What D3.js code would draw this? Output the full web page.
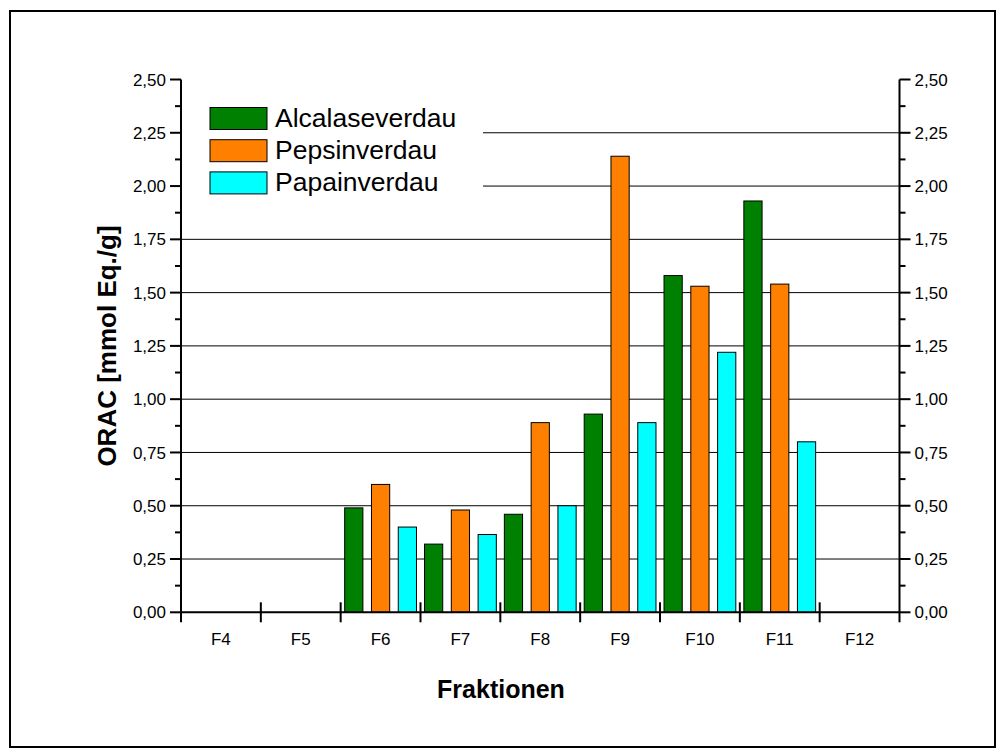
<!DOCTYPE html>
<html>
<head>
<meta charset="utf-8">
<script src="https://cdn.jsdelivr.net/npm/d3@7"></script>
<style>
  body { margin: 0; background: #fff; }
  text { font-family: Arial, "Liberation Sans", sans-serif; }
</style>
</head>
<body>
<div id="chart"></div>
<script>
var fractions = ['F4', 'F5', 'F6', 'F7', 'F8', 'F9', 'F10', 'F11', 'F12'];
var seriesNames = ['Alcalaseverdau', 'Pepsinverdau', 'Papainverdau'];
var seriesColors = ['#008000', '#FF8000', '#00FFFF'];
// null = no measurement for that fraction
var alcalase = [null, null, 0.49, 0.32, 0.46, 0.93, 1.58, 1.93, null];
var pepsin   = [null, null, 0.60, 0.48, 0.89, 2.14, 1.53, 1.54, null];
var papain   = [null, null, 0.40, 0.365, 0.50, 0.89, 1.22, 0.80, null];
var yTicks = [0, 0.25, 0.5, 0.75, 1, 1.25, 1.5, 1.75, 2, 2.25, 2.5];

var width = 1004, height = 755;
var plotLeft = 181, plotRight = 899.5, plotTop = 79.5, plotBottom = 612.3;

var svg = d3.select('#chart')
  .append('svg')
    .attr('width', width)
    .attr('height', height);

svg.append('rect')
  .attr('x', 10).attr('y', 11)
  .attr('width', 985).attr('height', 736)
  .style('fill', 'none')
  .style('stroke', '#000')
  .style('stroke-width', 2);

var x = d3.scaleBand()
  .domain(fractions)
  .range([plotLeft, plotRight])
  .padding(0);

var xSub = d3.scaleBand()
  .domain(d3.range(seriesNames.length))
  .range([0, x.bandwidth()])
  .paddingInner(0.32)
  .paddingOuter(0.15);

var y = d3.scaleLinear()
  .domain([0, 2.5])
  .range([plotBottom, plotTop]);

var fmt = function (v) { return d3.format('.2f')(v).replace('.', ','); };

// gridlines
svg.append('g')
  .selectAll('line')
  .data(yTicks.filter(function (v) { return v > 0 && v < 2.5; }))
  .enter().append('line')
    .attr('x1', plotLeft).attr('x2', plotRight)
    .attr('y1', function (v) { return y(v); })
    .attr('y2', function (v) { return y(v); })
    .style('stroke', '#000')
    .style('stroke-width', 1);

// bars
var rows = fractions.map(function (f, i) {
  return { fraction: f, values: [alcalase[i], pepsin[i], papain[i]] };
});

var groups = svg.selectAll('g.group')
  .data(rows)
  .enter().append('g')
    .classed('group', true)
    .attr('transform', function (d) { return 'translate(' + x(d.fraction) + ',0)'; });

groups.selectAll('rect')
  .data(function (d) {
    return d.values.map(function (v, k) { return { k: k, v: v }; })
      .filter(function (e) { return e.v !== null; });
  })
  .enter().append('rect')
    .attr('x', function (e) { return xSub(e.k); })
    .attr('width', xSub.bandwidth())
    .attr('y', function (e) { return y(e.v); })
    .attr('height', function (e) { return y(0) - y(e.v); })
    .style('fill', function (e) { return seriesColors[e.k]; })
    .style('stroke', '#000')
    .style('stroke-width', 1);

// legend
var legend = svg.append('g');
legend.append('rect')
  .attr('x', 182).attr('y', 96)
  .attr('width', 301).attr('height', 106)
  .style('fill', '#fff');

var items = legend.selectAll('g.item')
  .data(seriesNames)
  .enter().append('g')
    .attr('transform', function (d, i) { return 'translate(210,' + (107.5 + i * 32.2) + ')'; });
items.append('rect')
  .attr('width', 57).attr('height', 22)
  .style('fill', function (d, i) { return seriesColors[i]; })
  .style('stroke', '#000')
  .style('stroke-width', 1);
items.append('text')
  .attr('x', 65).attr('y', 19)
  .style('font-size', '26.5px')
  .text(function (d) { return d; });

// y axes
var minor = d3.range(0, 2.5001, 0.125);
function drawYAxis(g, dir) {
  g.selectAll('line.tick')
    .data(minor)
    .enter().append('line')
      .attr('x1', 0)
      .attr('x2', function (v, i) { return dir * (i % 2 === 0 ? 11 : 6); })
      .attr('y1', function (v) { return y(v); })
      .attr('y2', function (v) { return y(v); })
      .style('stroke', '#000')
      .style('stroke-width', 2);
  g.append('line')
    .attr('y1', y(0)).attr('y2', y(2.5))
    .style('stroke', '#000')
    .style('stroke-width', 2);
  g.selectAll('text')
    .data(yTicks)
    .enter().append('text')
      .attr('x', dir * 15)
      .attr('y', function (v) { return y(v); })
      .attr('dy', '0.36em')
      .attr('text-anchor', dir < 0 ? 'end' : 'start')
      .style('font-size', '17px')
      .text(fmt);
}
drawYAxis(svg.append('g').attr('transform', 'translate(' + plotLeft + ',0)'), -1);
drawYAxis(svg.append('g').attr('transform', 'translate(' + plotRight + ',0)'), 1);

// x axis
var xAxis = svg.append('g');
xAxis.append('line')
  .attr('x1', plotLeft).attr('x2', plotRight)
  .attr('y1', y(0)).attr('y2', y(0))
  .style('stroke', '#000')
  .style('stroke-width', 2);
xAxis.selectAll('line.tick')
  .data(fractions.slice(1))
  .enter().append('line')
    .attr('x1', function (d) { return x(d); })
    .attr('x2', function (d) { return x(d); })
    .attr('y1', y(0) - 10).attr('y2', y(0) + 10)
    .style('stroke', '#000')
    .style('stroke-width', 2);
xAxis.selectAll('line.edge')
  .data([plotLeft, plotRight])
  .enter().append('line')
    .attr('x1', function (d) { return d; })
    .attr('x2', function (d) { return d; })
    .attr('y1', y(0)).attr('y2', y(0) + 10)
    .style('stroke', '#000')
    .style('stroke-width', 2);
xAxis.selectAll('text')
  .data(fractions)
  .enter().append('text')
    .attr('x', function (d) { return x(d) + x.bandwidth() / 2; })
    .attr('y', 645)
    .attr('text-anchor', 'middle')
    .style('font-size', '17px')
    .text(function (d) { return d; });

// titles
svg.append('text')
  .attr('x', 501).attr('y', 698)
  .attr('text-anchor', 'middle')
  .style('font-size', '25px')
  .style('font-weight', 'bold')
  .text('Fraktionen');

svg.append('text')
  .attr('transform', 'translate(116,346) rotate(-90)')
  .attr('text-anchor', 'middle')
  .style('font-size', '26px')
  .style('font-weight', 'bold')
  .text('ORAC [mmol Eq./g]');
</script>
</body>
</html>
